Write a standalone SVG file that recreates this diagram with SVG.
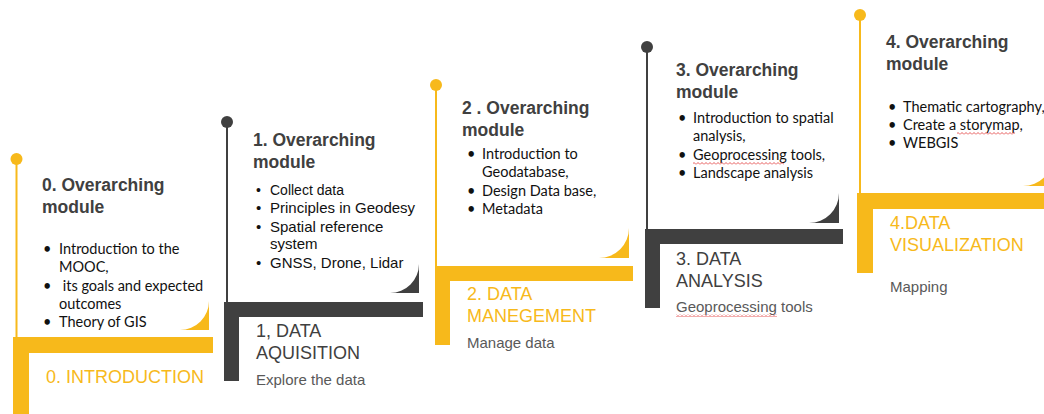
<svg xmlns="http://www.w3.org/2000/svg" width="1044" height="414" viewBox="0 0 1044 414">
<defs>
<style>
.y{fill:#F7B91B}
.g{fill:#404040}
.ly{stroke:#F7B91B;stroke-width:2;fill:none}
.lg{stroke:#404040;stroke-width:2;fill:none}
.ttl{font-family:"Liberation Sans",Arial,sans-serif;font-weight:bold;font-size:17.5px;fill:#404040}
.bc{font-family:Lato,"Noto Sans",sans-serif;font-size:14.5px;fill:#111}
.ba{font-family:"Liberation Sans",Arial,sans-serif;font-size:15px;fill:#111}
.sy{font-family:"Liberation Sans",Arial,sans-serif;font-size:18px;fill:#F7B91B}
.sg{font-family:"Liberation Sans",Arial,sans-serif;font-size:18px;fill:#404040}
.sub{font-family:"Liberation Sans",Arial,sans-serif;font-size:15px;fill:#595959}
.sq{fill:url(#wave)}
</style>
<pattern id="wave" x="0" y="0" width="4" height="3" patternUnits="userSpaceOnUse">
<path d="M0 2.5 L2 0.5 L4 2.5" stroke="#E03030" stroke-width="0.8" fill="none"/>
</pattern>
</defs>
<rect width="1044" height="414" fill="#FFFFFF"/>

<g id="connectors">
<line class="ly" x1="16.5" y1="159" x2="16.5" y2="338"/>
<line class="lg" x1="227" y1="122" x2="227" y2="303"/>
<line class="ly" x1="436" y1="85" x2="436" y2="267"/>
<line class="lg" x1="647" y1="47" x2="647" y2="230"/>
<line class="ly" x1="860" y1="15" x2="860" y2="194"/>
</g>

<g id="module0">
<circle class="y" cx="16.5" cy="159" r="6"/>
<rect class="y" x="13" y="337" width="200" height="16"/>
<rect class="y" x="13" y="337" width="16" height="77"/>
<path class="y" d="M209 301 L209 330 L180 330 A29 29 0 0 0 209 301 Z"/>
<text class="ttl" x="42" y="191">0. Overarching</text>
<text class="ttl" x="42" y="213">module</text>
<text class="bc" x="43" y="254">•</text><text class="bc" x="59" y="254">Introduction to the</text>
<text class="bc" x="59" y="272">MOOC,</text>
<text class="bc" x="43" y="291">•</text><text class="bc" x="59" y="291" xml:space="preserve"> its goals and expected</text>
<text class="bc" x="59" y="309">outcomes</text>
<text class="bc" x="43" y="327">•</text><text class="bc" x="59" y="327">Theory of GIS</text>
<text class="sy" x="46" y="383">0. INTRODUCTION</text>
</g>

<g id="module1">
<circle class="g" cx="227" cy="122" r="6"/>
<rect class="g" x="224" y="302" width="199" height="15"/>
<rect class="g" x="224" y="302" width="15" height="79"/>
<path class="g" d="M419 264 L419 293 L390 293 A29 29 0 0 0 419 264 Z"/>
<text class="ttl" x="253" y="146">1. Overarching</text>
<text class="ttl" x="253" y="168">module</text>
<text class="ba" x="256" y="195" style="font-size:14px">•</text><text class="ba" x="270" y="195" style="font-size:14px">Collect data</text>
<text class="ba" x="256" y="213">•</text><text class="ba" x="270" y="213">Principles in Geodesy</text>
<text class="ba" x="256" y="232">•</text><text class="ba" x="270" y="232">Spatial reference</text>
<text class="ba" x="270" y="249">system</text>
<text class="ba" x="256" y="268">•</text><text class="ba" x="270" y="268">GNSS, Drone, Lidar</text>
<text class="sg" x="256" y="337">1, DATA</text>
<text class="sg" x="256" y="359">AQUISITION</text>
<text class="sub" x="256" y="385">Explore the data</text>
</g>

<g id="module2">
<circle class="y" cx="436" cy="85" r="6"/>
<rect class="y" x="435" y="266" width="198" height="15"/>
<rect class="y" x="435" y="266" width="15" height="79"/>
<path class="y" d="M629 228 L629 258 L599 258 A30 30 0 0 0 629 228 Z"/>
<text class="ttl" x="462" y="114">2 . Overarching</text>
<text class="ttl" x="462" y="136">module</text>
<text class="bc" x="467" y="159">•</text><text class="bc" x="482" y="159">Introduction to</text>
<text class="bc" x="482" y="177">Geodatabase,</text>
<text class="bc" x="467" y="196">•</text><text class="bc" x="482" y="196">Design Data base,</text>
<text class="bc" x="467" y="214">•</text><text class="bc" x="482" y="214">Metadata</text>
<text class="sy" x="467" y="300">2. DATA</text>
<text class="sy" x="467" y="322">MANEGEMENT</text>
<text class="sub" x="467" y="348">Manage data</text>
</g>

<g id="module3">
<circle class="g" cx="647" cy="47" r="6"/>
<rect class="g" x="645" y="229" width="198" height="15"/>
<rect class="g" x="645" y="229" width="15" height="79"/>
<path class="g" d="M839 193 L839 223 L809 223 A30 30 0 0 0 839 193 Z"/>
<text class="ttl" x="676" y="76">3. Overarching</text>
<text class="ttl" x="676" y="98">module</text>
<text class="bc" x="678" y="123">•</text><text class="bc" x="693" y="123">Introduction to spatial</text>
<text class="bc" x="693" y="141">analysis,</text>
<text class="bc" x="678" y="160">•</text><text class="bc" x="693" y="160">Geoprocessing tools,</text>
<rect class="sq" x="693" y="162" width="91" height="3"/>
<text class="bc" x="678" y="178">•</text><text class="bc" x="693" y="178">Landscape analysis</text>
<text class="sg" x="676" y="265">3. DATA</text>
<text class="sg" x="676" y="287">ANALYSIS</text>
<text class="sub" x="676" y="312">Geoprocessing tools</text>
<rect class="sq" x="676" y="314" width="101" height="3"/>
</g>

<g id="module4">
<circle class="y" cx="860" cy="15" r="6"/>
<rect class="y" x="857" y="193" width="187" height="16"/>
<rect class="y" x="857" y="193" width="16" height="80"/>
<path class="y" d="M1053 156 L1053 186 L1023 186 A30 30 0 0 0 1053 156 Z"/>
<text class="ttl" x="886" y="48">4. Overarching</text>
<text class="ttl" x="886" y="70">module</text>
<text class="bc" x="888" y="112">•</text><text class="bc" x="903" y="112">Thematic cartography,</text>
<text class="bc" x="888" y="130">•</text><text class="bc" x="903" y="130">Create a storymap,</text>
<rect class="sq" x="957" y="132" width="58" height="3"/>
<text class="bc" x="888" y="148">•</text><text class="bc" x="903" y="148">WEBGIS</text>
<text class="sy" x="890" y="229">4.DATA</text>
<text class="sy" x="890" y="251">VISUALIZATION</text>
<text class="sub" x="890" y="292">Mapping</text>
</g>
</svg>
